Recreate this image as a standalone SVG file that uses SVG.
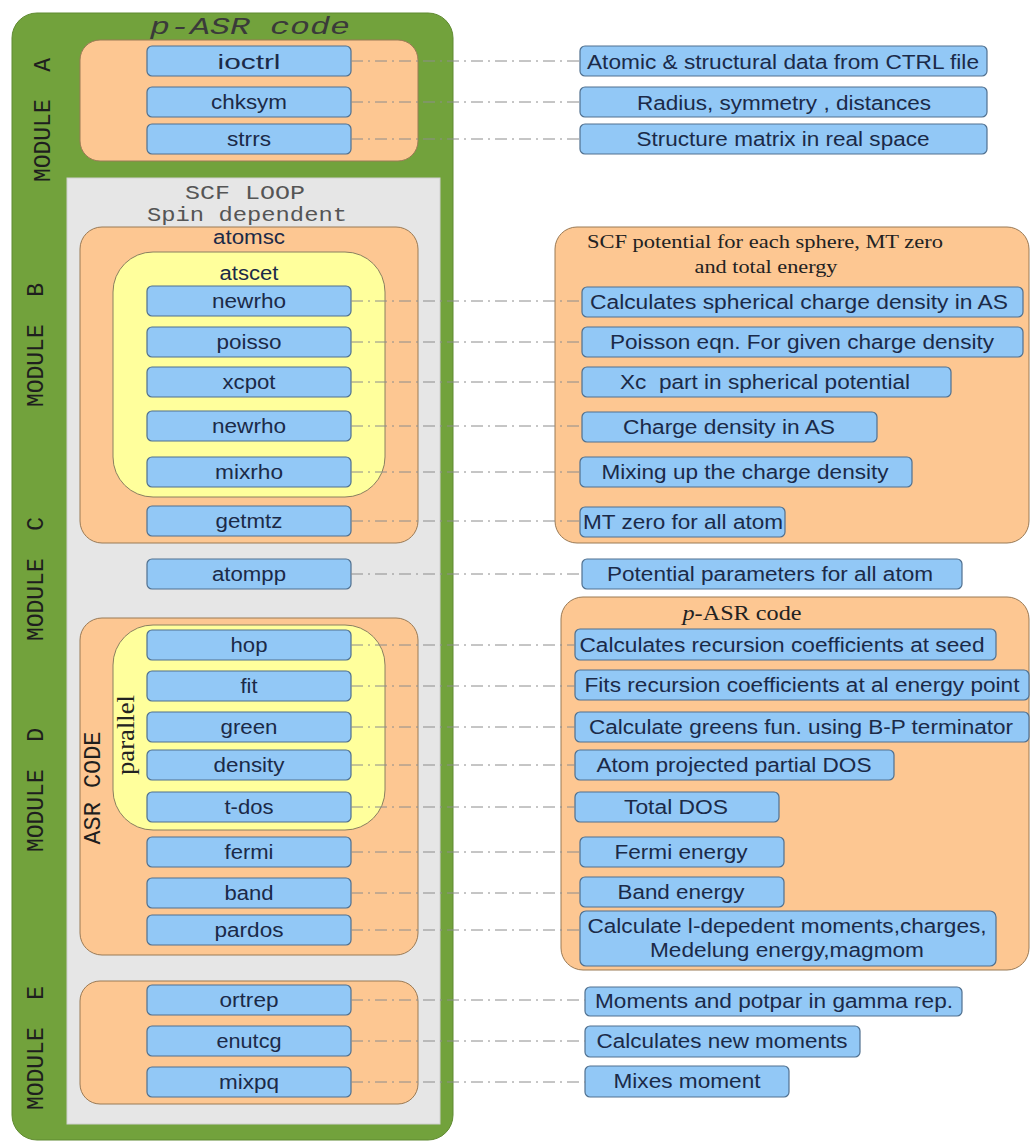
<svg xmlns="http://www.w3.org/2000/svg" width="1031" height="1141" viewBox="0 0 1031 1141">
<style>
.green{fill:#72a23c;stroke:#5f8a30;stroke-width:1}
.gray{fill:#e6e6e6;stroke:#d0d0d0;stroke-width:1}
.orange{fill:#fdc792;stroke:#9a7a55;stroke-width:1}
.yellow{fill:#ffff9c;stroke:#8a8060;stroke-width:1}
.blue{fill:#92c8f6;stroke:#50708f;stroke-width:1.2}
.t{font-family:"Liberation Sans",Arial,sans-serif;font-size:20px;fill:#1b2a48;text-anchor:middle}
.m{font-family:"Liberation Mono","Courier New",monospace;font-size:23px;fill:#1e1e1e;text-anchor:middle}
.s{font-family:"Liberation Serif","Times New Roman",serif;font-size:19px;fill:#222;text-anchor:middle}
.c{stroke:#8c8c8c;stroke-width:1;stroke-dasharray:12 5 2 5;fill:none}
</style>
<rect width="1031" height="1141" fill="#ffffff"/>
<g id="frame">
<rect class="green" x="12" y="13" width="441" height="1127" rx="25"/>
<text class="m" x="250" y="34" style="font-style:italic;font-size:24px;fill:#3a3a3a" textLength="200" lengthAdjust="spacingAndGlyphs">p-ASR code</text>
<rect class="gray" x="67" y="178" width="373" height="946"/>
<text class="m" x="245" y="199" style="fill:#555;font-size:21px" textLength="120" lengthAdjust="spacingAndGlyphs">SCF LOOP</text>
<text class="m" x="247" y="221" style="fill:#555;font-size:21px" textLength="200" lengthAdjust="spacingAndGlyphs">Spin dependent</text>
<text class="m" transform="translate(50,120) rotate(-90)" xml:space="preserve">MODULE  A</text>
<text class="m" transform="translate(43,345) rotate(-90)" xml:space="preserve">MODULE  B</text>
<text class="m" transform="translate(43,579) rotate(-90)" xml:space="preserve">MODULE  C</text>
<text class="m" transform="translate(43,790) rotate(-90)" xml:space="preserve">MODULE  D</text>
<text class="m" transform="translate(43,1048) rotate(-90)" xml:space="preserve">MODULE  E</text>
</g>
<g id="moduleA">
<rect class="orange" x="80" y="40" width="338" height="121" rx="20"/>
</g>
<g id="atomsc">
<rect class="orange" x="80" y="227" width="338" height="316" rx="22"/>
<text class="t" x="249" y="244" textLength="72" lengthAdjust="spacingAndGlyphs">atomsc</text>
</g>
<g id="atscet">
<rect class="yellow" x="113" y="252" width="272" height="245" rx="40"/>
<text class="t" x="249" y="280" textLength="59" lengthAdjust="spacingAndGlyphs">atscet</text>
</g>
<g id="moduleD">
<rect class="orange" x="80" y="618" width="338" height="337" rx="22"/>
<text class="m" transform="translate(100,788) rotate(-90)" textLength="113" lengthAdjust="spacingAndGlyphs">ASR CODE</text>
</g>
<g id="parallel">
<rect class="yellow" x="113" y="625" width="272" height="205" rx="40"/>
<text class="s" style="font-size:26px" transform="translate(134,735) rotate(-90)" textLength="80" lengthAdjust="spacingAndGlyphs">parallel</text>
</g>
<g id="moduleE">
<rect class="orange" x="80" y="981" width="338" height="123" rx="20"/>
</g>
<g id="left-nodes">
<g id="ioctrl"><rect class="blue" x="147" y="46" width="204" height="30" rx="5"/><text class="t" x="249" y="69" textLength="63" lengthAdjust="spacingAndGlyphs">ioctrl</text></g>
<g id="chksym"><rect class="blue" x="147" y="87" width="204" height="30" rx="5"/><text class="t" x="249" y="109" textLength="76" lengthAdjust="spacingAndGlyphs">chksym</text></g>
<g id="strrs"><rect class="blue" x="147" y="124" width="204" height="30" rx="5"/><text class="t" x="249" y="146" textLength="44" lengthAdjust="spacingAndGlyphs">strrs</text></g>
<g id="newrho1"><rect class="blue" x="147" y="286" width="204" height="30" rx="5"/><text class="t" x="249" y="308" textLength="74" lengthAdjust="spacingAndGlyphs">newrho</text></g>
<g id="poisso"><rect class="blue" x="147" y="327" width="204" height="30" rx="5"/><text class="t" x="249" y="349" textLength="65" lengthAdjust="spacingAndGlyphs">poisso</text></g>
<g id="xcpot"><rect class="blue" x="147" y="367" width="204" height="30" rx="5"/><text class="t" x="249" y="389" textLength="53" lengthAdjust="spacingAndGlyphs">xcpot</text></g>
<g id="newrho2"><rect class="blue" x="147" y="411" width="204" height="30" rx="5"/><text class="t" x="249" y="433" textLength="74" lengthAdjust="spacingAndGlyphs">newrho</text></g>
<g id="mixrho"><rect class="blue" x="147" y="457" width="204" height="30" rx="5"/><text class="t" x="249" y="479" textLength="68" lengthAdjust="spacingAndGlyphs">mixrho</text></g>
<g id="getmtz"><rect class="blue" x="147" y="506" width="204" height="30" rx="5"/><text class="t" x="249" y="528" textLength="67" lengthAdjust="spacingAndGlyphs">getmtz</text></g>
<g id="atompp"><rect class="blue" x="147" y="559" width="204" height="30" rx="5"/><text class="t" x="249" y="581" textLength="74" lengthAdjust="spacingAndGlyphs">atompp</text></g>
<g id="hop"><rect class="blue" x="147" y="630" width="204" height="30" rx="5"/><text class="t" x="249" y="652" textLength="37" lengthAdjust="spacingAndGlyphs">hop</text></g>
<g id="fit"><rect class="blue" x="147" y="671" width="204" height="30" rx="5"/><text class="t" x="249" y="693" textLength="17" lengthAdjust="spacingAndGlyphs">fit</text></g>
<g id="green"><rect class="blue" x="147" y="712" width="204" height="30" rx="5"/><text class="t" x="249" y="734" textLength="57" lengthAdjust="spacingAndGlyphs">green</text></g>
<g id="density"><rect class="blue" x="147" y="750" width="204" height="30" rx="5"/><text class="t" x="249" y="772" textLength="71" lengthAdjust="spacingAndGlyphs">density</text></g>
<g id="t-dos"><rect class="blue" x="147" y="792" width="204" height="30" rx="5"/><text class="t" x="249" y="814" textLength="49" lengthAdjust="spacingAndGlyphs">t-dos</text></g>
<g id="fermi"><rect class="blue" x="147" y="837" width="204" height="30" rx="5"/><text class="t" x="249" y="859" textLength="49" lengthAdjust="spacingAndGlyphs">fermi</text></g>
<g id="band"><rect class="blue" x="147" y="878" width="204" height="30" rx="5"/><text class="t" x="249" y="900" textLength="49" lengthAdjust="spacingAndGlyphs">band</text></g>
<g id="pardos"><rect class="blue" x="147" y="915" width="204" height="30" rx="5"/><text class="t" x="249" y="937" textLength="69" lengthAdjust="spacingAndGlyphs">pardos</text></g>
<g id="ortrep"><rect class="blue" x="147" y="985" width="204" height="30" rx="5"/><text class="t" x="249" y="1007" textLength="59" lengthAdjust="spacingAndGlyphs">ortrep</text></g>
<g id="enutcg"><rect class="blue" x="147" y="1026" width="204" height="30" rx="5"/><text class="t" x="249" y="1048" textLength="65" lengthAdjust="spacingAndGlyphs">enutcg</text></g>
<g id="mixpq"><rect class="blue" x="147" y="1067" width="204" height="30" rx="5"/><text class="t" x="249" y="1089" textLength="60" lengthAdjust="spacingAndGlyphs">mixpq</text></g>
</g>
<g id="scf-panel">
<rect class="orange" x="555" y="227" width="474" height="316" rx="22"/>
<text class="s" x="765" y="248" textLength="356" lengthAdjust="spacingAndGlyphs">SCF potential for each sphere, MT zero</text>
<text class="s" x="766" y="273" textLength="143" lengthAdjust="spacingAndGlyphs">and total energy</text>
</g>
<g id="asr-panel">
<rect class="orange" x="561" y="597" width="468" height="373" rx="22"/>
<text class="s" x="742" y="620" style="font-size:20px" textLength="119" lengthAdjust="spacingAndGlyphs"><tspan font-style="italic">p</tspan>-ASR code</text>
</g>
<g id="right-nodes">
<g id="d-atomic"><rect class="blue" x="580" y="46" width="407" height="30" rx="5"/><text class="t" x="783" y="69" textLength="392" lengthAdjust="spacingAndGlyphs">Atomic &amp; structural data from CTRL file</text></g>
<g id="d-radius"><rect class="blue" x="580" y="87" width="407" height="30" rx="5"/><text class="t" x="784" y="110" textLength="294" lengthAdjust="spacingAndGlyphs">Radius, symmetry , distances</text></g>
<g id="d-structure"><rect class="blue" x="580" y="124" width="407" height="30" rx="5"/><text class="t" x="783" y="146" textLength="293" lengthAdjust="spacingAndGlyphs">Structure matrix in real space</text></g>
<g id="d-spherical"><rect class="blue" x="582" y="287" width="441" height="30" rx="5"/><text class="t" x="799" y="309" textLength="418" lengthAdjust="spacingAndGlyphs">Calculates spherical charge density in AS</text></g>
<g id="d-poisson"><rect class="blue" x="582" y="327" width="441" height="30" rx="5"/><text class="t" x="802" y="349" textLength="384" lengthAdjust="spacingAndGlyphs">Poisson eqn. For given charge density</text></g>
<g id="d-xc"><rect class="blue" x="582" y="367" width="369" height="30" rx="5"/><text class="t" x="765" y="389" textLength="290" lengthAdjust="spacingAndGlyphs" xml:space="preserve">Xc  part in spherical potential</text></g>
<g id="d-charge"><rect class="blue" x="582" y="412" width="295" height="30" rx="5"/><text class="t" x="729" y="434" textLength="212" lengthAdjust="spacingAndGlyphs">Charge density in AS</text></g>
<g id="d-mixing"><rect class="blue" x="580" y="457" width="332" height="30" rx="5"/><text class="t" x="745" y="479" textLength="287" lengthAdjust="spacingAndGlyphs">Mixing up the charge density</text></g>
<g id="d-mtzero"><rect class="blue" x="580" y="507" width="205" height="30" rx="5"/><text class="t" x="683" y="529" textLength="200" lengthAdjust="spacingAndGlyphs">MT zero for all atom</text></g>
<g id="d-potpar"><rect class="blue" x="582" y="559" width="380" height="30" rx="5"/><text class="t" x="770" y="581" textLength="326" lengthAdjust="spacingAndGlyphs">Potential parameters for all atom</text></g>
<g id="d-recursion"><rect class="blue" x="575" y="629" width="421" height="31" rx="5"/><text class="t" x="782" y="652" textLength="405" lengthAdjust="spacingAndGlyphs">Calculates recursion coefficients at seed</text></g>
<g id="d-fits"><rect class="blue" x="575" y="670" width="454" height="30" rx="5"/><text class="t" x="802" y="692" textLength="435" lengthAdjust="spacingAndGlyphs">Fits recursion coefficients at al energy point</text></g>
<g id="d-greens"><rect class="blue" x="575" y="712" width="454" height="30" rx="5"/><text class="t" x="801" y="734" textLength="424" lengthAdjust="spacingAndGlyphs">Calculate greens fun. using B-P terminator</text></g>
<g id="d-pdos"><rect class="blue" x="575" y="750" width="319" height="30" rx="5"/><text class="t" x="734" y="772" textLength="275" lengthAdjust="spacingAndGlyphs">Atom projected partial DOS</text></g>
<g id="d-tdos"><rect class="blue" x="575" y="792" width="204" height="30" rx="5"/><text class="t" x="676" y="814" textLength="104" lengthAdjust="spacingAndGlyphs">Total DOS</text></g>
<g id="d-fermi"><rect class="blue" x="580" y="837" width="204" height="30" rx="5"/><text class="t" x="681" y="859" textLength="133" lengthAdjust="spacingAndGlyphs">Fermi energy</text></g>
<g id="d-band"><rect class="blue" x="580" y="877" width="204" height="30" rx="5"/><text class="t" x="681" y="899" textLength="127" lengthAdjust="spacingAndGlyphs">Band energy</text></g>
<g id="d-moments"><rect class="blue" x="580" y="911" width="416" height="55" rx="6"/><text class="t" x="787" y="933" textLength="399" lengthAdjust="spacingAndGlyphs">Calculate l-depedent moments,charges,</text><text class="t" x="787" y="957" textLength="274" lengthAdjust="spacingAndGlyphs">Medelung energy,magmom</text></g>
<g id="d-gamma"><rect class="blue" x="585" y="987" width="377" height="29" rx="5"/><text class="t" x="774" y="1008" textLength="358" lengthAdjust="spacingAndGlyphs">Moments and potpar in gamma rep.</text></g>
<g id="d-newmom"><rect class="blue" x="585" y="1026" width="275" height="31" rx="5"/><text class="t" x="722" y="1048" textLength="251" lengthAdjust="spacingAndGlyphs">Calculates new moments</text></g>
<g id="d-mixes"><rect class="blue" x="585" y="1066" width="204" height="31" rx="5"/><text class="t" x="687" y="1088" textLength="147" lengthAdjust="spacingAndGlyphs">Mixes moment</text></g>
</g>
<g id="connectors">
<line class="c" x1="351" y1="61" x2="580" y2="61"/>
<line class="c" x1="351" y1="102" x2="580" y2="102"/>
<line class="c" x1="351" y1="139" x2="580" y2="139"/>
<line class="c" x1="351" y1="301" x2="582" y2="301"/>
<line class="c" x1="351" y1="342" x2="582" y2="342"/>
<line class="c" x1="351" y1="382" x2="582" y2="382"/>
<line class="c" x1="351" y1="426" x2="582" y2="426"/>
<line class="c" x1="351" y1="472" x2="580" y2="472"/>
<line class="c" x1="351" y1="521" x2="580" y2="521"/>
<line class="c" x1="351" y1="574" x2="582" y2="574"/>
<line class="c" x1="351" y1="645" x2="575" y2="645"/>
<line class="c" x1="351" y1="686" x2="575" y2="686"/>
<line class="c" x1="351" y1="727" x2="575" y2="727"/>
<line class="c" x1="351" y1="765" x2="575" y2="765"/>
<line class="c" x1="351" y1="807" x2="575" y2="807"/>
<line class="c" x1="351" y1="852" x2="580" y2="852"/>
<line class="c" x1="351" y1="893" x2="580" y2="893"/>
<line class="c" x1="351" y1="930" x2="580" y2="930"/>
<line class="c" x1="351" y1="1000" x2="585" y2="1000"/>
<line class="c" x1="351" y1="1041" x2="585" y2="1041"/>
<line class="c" x1="351" y1="1082" x2="585" y2="1082"/>
</g>
</svg>
